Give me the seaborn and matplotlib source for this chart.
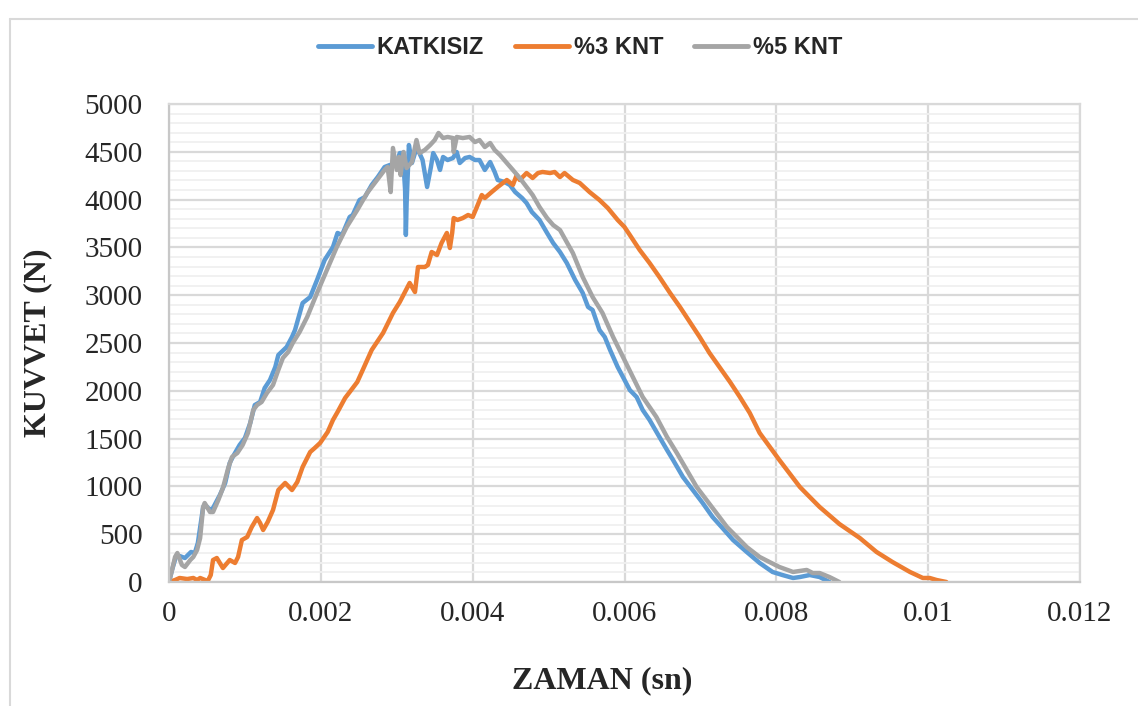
import pandas as pd
import seaborn as sns
import matplotlib
matplotlib.use("Agg")
import matplotlib.pyplot as plt
from matplotlib.ticker import MultipleLocator, FuncFormatter
from matplotlib.lines import Line2D

# KATKISIZ
t_katkisiz = [0, 0.00004, 0.00009, 0.00014, 0.00021, 0.00029, 0.00034, 0.00038, 0.00045, 0.00049,
              0.00054, 0.00058, 0.00067, 0.00074, 0.00080, 0.00084, 0.00093, 0.00100, 0.00107, 0.00113,
              0.00120, 0.00126, 0.00133, 0.00140, 0.00144, 0.00155, 0.00162, 0.00166, 0.00176, 0.00186,
              0.00195, 0.00205, 0.00216, 0.00222, 0.00228, 0.00238, 0.00242, 0.00251, 0.00258, 0.00267,
              0.00275, 0.00284, 0.00291, 0.00300, 0.00304, 0.00308, 0.00311, 0.00312, 0.00313, 0.00316,
              0.00320, 0.00324, 0.00328, 0.00334, 0.00340, 0.00345, 0.00348, 0.00353, 0.00357, 0.00361,
              0.00367, 0.00374, 0.00379, 0.00383, 0.00390, 0.00396, 0.00403, 0.00409, 0.00416, 0.00423,
              0.00429, 0.00433, 0.00442, 0.00449, 0.00456, 0.00465, 0.00471, 0.00478, 0.00488, 0.00498,
              0.00506, 0.00515, 0.00524, 0.00535, 0.00545, 0.00552, 0.00558, 0.00567, 0.00574, 0.00581,
              0.00591, 0.00598, 0.00607, 0.00616, 0.00624, 0.00633, 0.00646, 0.00656, 0.00664, 0.00677,
              0.00690, 0.00703, 0.00716, 0.00729, 0.00743, 0.00761, 0.00778, 0.00795, 0.00808, 0.00822,
              0.00831, 0.00844, 0.00857, 0.00870]
f_katkisiz = [0, 126, 262, 272, 251, 314, 303, 408, 785, 795,
              753, 774, 910, 1036, 1245, 1308, 1433, 1506, 1663, 1851,
              1883, 2029, 2113, 2249, 2374, 2458, 2563, 2636, 2918, 2981,
              3159, 3368, 3504, 3651, 3630, 3818, 3839, 3996, 4027, 4153,
              4236, 4341, 4362, 4383, 4487, 4487, 4100, 3630, 3964, 4571,
              4383, 4487, 4519, 4414, 4132, 4341, 4487, 4414, 4310, 4446,
              4414, 4435, 4498, 4383, 4435, 4446, 4414, 4414, 4310, 4393,
              4289, 4205, 4184, 4153, 4079, 4017, 3964, 3870, 3787, 3651,
              3546, 3452, 3337, 3159, 3023, 2877, 2845, 2636, 2563, 2427,
              2249, 2144, 2008, 1935, 1799, 1695, 1517, 1381, 1276, 1098,
              962, 826, 680, 565, 439, 314, 199, 105, 73, 42,
              52, 73, 52, 0]

# %3 KNT
t_knt3 = [0, 0.00008, 0.00014, 0.00024, 0.00032, 0.00037, 0.00041, 0.00051, 0.00055, 0.00058,
          0.00063, 0.00071, 0.00080, 0.00087, 0.00091, 0.00096, 0.00103, 0.00109, 0.00116, 0.00120,
          0.00124, 0.00130, 0.00137, 0.00144, 0.00153, 0.00162, 0.00169, 0.00176, 0.00186, 0.00192,
          0.00199, 0.00209, 0.00216, 0.00222, 0.00232, 0.00238, 0.00248, 0.00254, 0.00267, 0.00282,
          0.00295, 0.00304, 0.00317, 0.00324, 0.00328, 0.00337, 0.00341, 0.00346, 0.00353, 0.00359,
          0.00366, 0.00370, 0.00373, 0.00375, 0.00380, 0.00387, 0.00394, 0.00400, 0.00405, 0.00412,
          0.00416, 0.00425, 0.00433, 0.00445, 0.00453, 0.00458, 0.00462, 0.00471, 0.00479, 0.00486,
          0.00492, 0.00502, 0.00508, 0.00515, 0.00521, 0.00532, 0.00541, 0.00554, 0.00567, 0.00578,
          0.00591, 0.00600, 0.00607, 0.00620, 0.00633, 0.00646, 0.00660, 0.00673, 0.00686, 0.00699,
          0.00712, 0.00725, 0.00739, 0.00752, 0.00765, 0.00778, 0.00804, 0.00831, 0.00844, 0.00857,
          0.00883, 0.00910, 0.00932, 0.00953, 0.00976, 0.00993, 0.01002, 0.01011, 0.01024]
f_knt3 = [0, 21, 42, 31, 42, 21, 42, 10, 73, 230,
          251, 146, 230, 199, 262, 439, 471, 575, 669, 617,
          544, 628, 753, 962, 1036, 962, 1046, 1203, 1360, 1402,
          1454, 1569, 1695, 1778, 1925, 1987, 2092, 2197, 2427, 2605,
          2814, 2929, 3128, 3033, 3295, 3295, 3316, 3452, 3420, 3546,
          3651, 3494, 3651, 3807, 3787, 3807, 3839, 3818, 3912, 4048,
          4017, 4079, 4132, 4205, 4153, 4257, 4205, 4278, 4226, 4278,
          4289, 4278, 4289, 4236, 4278, 4205, 4174, 4079, 3996, 3912,
          3787, 3713, 3630, 3473, 3337, 3190, 3023, 2877, 2720, 2563,
          2395, 2249, 2092, 1935, 1768, 1559, 1276, 994, 889, 785,
          607, 460, 314, 209, 105, 42, 42, 21, 0]

# %5 KNT
t_knt5 = [0, 0.00004, 0.00008, 0.00011, 0.00017, 0.00021, 0.00028, 0.00032, 0.00037, 0.00041,
          0.00045, 0.00047, 0.00054, 0.00058, 0.00065, 0.00071, 0.00078, 0.00083, 0.00090, 0.00097,
          0.00104, 0.00111, 0.00116, 0.00122, 0.00129, 0.00137, 0.00144, 0.00150, 0.00157, 0.00163,
          0.00172, 0.00182, 0.00195, 0.00208, 0.00221, 0.00234, 0.00248, 0.00261, 0.00274, 0.00284,
          0.00288, 0.00292, 0.00295, 0.00300, 0.00303, 0.00305, 0.00309, 0.00313, 0.00320, 0.00326,
          0.00330, 0.00337, 0.00344, 0.00350, 0.00355, 0.00361, 0.00367, 0.00374, 0.00375, 0.00379,
          0.00387, 0.00396, 0.00403, 0.00409, 0.00416, 0.00423, 0.00429, 0.00436, 0.00445, 0.00453,
          0.00462, 0.00471, 0.00479, 0.00488, 0.00498, 0.00506, 0.00515, 0.00532, 0.00545, 0.00558,
          0.00571, 0.00585, 0.00598, 0.00611, 0.00624, 0.00642, 0.00656, 0.00669, 0.00682, 0.00695,
          0.00708, 0.00721, 0.00735, 0.00748, 0.00761, 0.00778, 0.00791, 0.00804, 0.00822, 0.00840,
          0.00848, 0.00857, 0.00870, 0.00883]
f_knt5 = [0, 126, 262, 303, 178, 157, 230, 262, 335, 460,
          785, 826, 732, 732, 858, 983, 1192, 1308, 1349, 1433,
          1559, 1799, 1851, 1883, 1977, 2061, 2218, 2343, 2406, 2500,
          2615, 2772, 3023, 3264, 3504, 3713, 3891, 4069, 4205, 4310,
          4341, 4079, 4540, 4310, 4446, 4257, 4498, 4330, 4393, 4623,
          4487, 4519, 4571, 4623, 4697, 4644, 4655, 4644, 4498, 4655,
          4644, 4655, 4602, 4623, 4550, 4592, 4519, 4466, 4383, 4310,
          4226, 4132, 4048, 3923, 3807, 3734, 3682, 3441, 3190, 2981,
          2814, 2563, 2354, 2144, 1935, 1726, 1517, 1349, 1172, 994,
          858, 722, 575, 471, 366, 262, 209, 157, 105, 126,
          94, 94, 52, 0]

series_names = ["KATKISIZ", "%3 KNT", "%5 KNT"]
colors = ["#5B9BD5", "#ED7D31", "#A5A5A5"]

frames = []
for name, t, f in zip(series_names, [t_katkisiz, t_knt3, t_knt5], [f_katkisiz, f_knt3, f_knt5]):
    d = pd.DataFrame({"zaman": t, "kuvvet": f})
    d["seri"] = name
    frames.append(d)
df = pd.concat(frames, ignore_index=True)

sns.set_style("white")
plt.rcParams["font.family"] = ["Liberation Serif", "DejaVu Serif"]

fig = plt.figure(figsize=(11.38, 7.06), dpi=100)
ax = fig.add_axes([169 / 1138, 1 - 582 / 706, 911 / 1138, 478 / 706])

sns.lineplot(data=df, x="zaman", y="kuvvet", hue="seri", hue_order=series_names,
             palette=colors, sort=False, estimator=None, units="seri", linewidth=3.2,
             ax=ax, legend=False)

ax.set_xlim(0, 0.012)
ax.set_ylim(0, 5000)
ax.xaxis.set_major_locator(MultipleLocator(0.002))
ax.xaxis.set_major_formatter(FuncFormatter(lambda v, p: "%g" % round(v, 4)))
ax.yaxis.set_major_locator(MultipleLocator(500))
ax.yaxis.set_minor_locator(MultipleLocator(100))

ax.grid(True, which="major", color="#d9d9d9", linewidth=1.6)
ax.grid(True, which="minor", axis="y", color="#f0f0f0", linewidth=1.3)
ax.set_axisbelow(True)
for sp in ax.spines.values():
    sp.set_color("#d9d9d9")
    sp.set_linewidth(1.6)
ax.spines["bottom"].set_color("#c8c8c8")
ax.spines["left"].set_color("#c8c8c8")

ax.tick_params(axis="both", which="both", length=0, labelsize=21)
ax.tick_params(axis="y", pad=19)
ax.tick_params(axis="x", pad=14)

ax.set_xlabel("ZAMAN (sn)", fontsize=23, fontweight="bold", va="center")
ax.xaxis.set_label_coords(433 / 911, -99 / 478)
ax.set_ylabel("KUVVET (N)", fontsize=23, fontweight="bold", va="center")
ax.yaxis.set_label_coords(-131 / 911, 0.5)

handles = [Line2D([0], [0], color=c, linewidth=3.5) for c in colors]
fig.legend(handles, series_names, loc="center", bbox_to_anchor=(580 / 1138, 1 - 48 / 706),
           ncol=3, frameon=False, handlelength=2.3, handletextpad=0.2, columnspacing=1.3,
           prop={"family": ["Liberation Sans", "DejaVu Sans"], "weight": "bold", "size": 17})

# chart area frame
fig.add_artist(Line2D([10 / 1138, 10 / 1138], [0, 1 - 19 / 706], transform=fig.transFigure,
                      color="#d9d9d9", linewidth=1.5))
fig.add_artist(Line2D([10 / 1138, 1], [1 - 19 / 706, 1 - 19 / 706], transform=fig.transFigure,
                      color="#d9d9d9", linewidth=1.5))

fig.savefig("out.png", dpi=100)
